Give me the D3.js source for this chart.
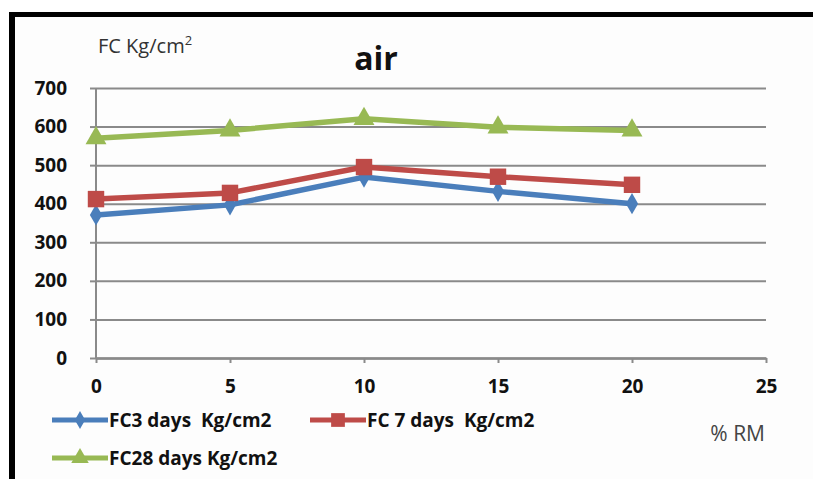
<!DOCTYPE html>
<html>
<head>
<meta charset="utf-8">
<script src="https://cdn.jsdelivr.net/npm/d3@7"></script>
<style>
  html, body { margin: 0; padding: 0; background: #fff; }
  svg { display: block; font-family: "Open Sans", "Noto Sans", sans-serif; }
</style>
</head>
<body>
<svg id="chart" width="813" height="479"></svg>
<script>
// % RM replacement levels
const rmLevels = [0, 5, 10, 15, 20];
// Compressive strength (Kg/cm2) cured in air
const fc3 = [371, 397, 469, 432, 400];
const fc7 = [412, 428, 495, 470, 449];
const fc28 = [570, 590, 620, 598, 590];
const seriesNames = ["FC3 days  Kg/cm2", "FC 7 days  Kg/cm2", "FC28 days Kg/cm2"];
const yTicks = [0, 100, 200, 300, 400, 500, 600, 700];
const xTicks = [0, 5, 10, 15, 20, 25];

const series = [
  { name: seriesNames[0], values: fc3, color: "#4a7ebb", symbol: d3.symbolDiamond, size: 130 },
  { name: seriesNames[1], values: fc7, color: "#be4b48", symbol: d3.symbolSquare, size: 270 },
  { name: seriesNames[2], values: fc28, color: "#98b954", symbol: d3.symbolTriangle, size: 190 }
];

const svg = d3.select("#chart");

// outer frame
svg.append("rect").attr("x", 0).attr("y", 0).attr("width", 813).attr("height", 479).attr("fill", "#fff");
svg.append("rect").attr("x", 9).attr("y", 12).attr("width", 804).attr("height", 5).attr("fill", "#000");
svg.append("rect").attr("x", 9).attr("y", 12).attr("width", 6).attr("height", 467).attr("fill", "#000");
svg.append("rect").attr("x", 15).attr("y", 17).attr("width", 798).attr("height", 462).attr("fill", "#fdfdfd");

const x = d3.scaleLinear().domain([0, 25]).range([96, 766]);
const y = d3.scaleLinear().domain([0, 700]).range([358, 88]);

const tickFont = { size: 19, weight: 700 };

// horizontal gridlines with left tick marks
const yAxis = svg.append("g")
  .attr("transform", `translate(${x(0)},0)`)
  .call(d3.axisLeft(y).tickValues(yTicks).tickSize(6).tickPadding(23).tickFormat(d3.format("d")));
yAxis.select(".domain").remove();
yAxis.selectAll(".tick line").attr("stroke", "#8a8a8a").attr("stroke-width", 2);
yAxis.selectAll(".tick").append("line")
  .attr("x1", 0).attr("x2", x(25) - x(0))
  .attr("stroke", "#8a8a8a").attr("stroke-width", 2);
yAxis.selectAll(".tick text")
  .attr("fill", "#111").attr("font-size", tickFont.size).attr("font-weight", tickFont.weight)
  .attr("font-family", "'Open Sans', sans-serif");

// vertical axis line
svg.append("line")
  .attr("x1", x(0)).attr("x2", x(0)).attr("y1", y(700)).attr("y2", y(0))
  .attr("stroke", "#8a8a8a").attr("stroke-width", 2);

// x axis
const xAxis = svg.append("g")
  .attr("transform", `translate(0,${y(0)})`)
  .call(d3.axisBottom(x).tickValues(xTicks).tickSize(5).tickPadding(17).tickSizeOuter(0).tickFormat(d3.format("d")));
xAxis.select(".domain").attr("stroke", "#8a8a8a").attr("stroke-width", 2.5);
xAxis.selectAll(".tick line").attr("stroke", "#8a8a8a").attr("stroke-width", 2);
xAxis.selectAll(".tick text")
  .attr("fill", "#111").attr("font-size", tickFont.size).attr("font-weight", tickFont.weight)
  .attr("font-family", "'Open Sans', sans-serif");

// series lines and markers
const line = d3.line().x((d, i) => x(rmLevels[i])).y(d => y(d));
series.forEach(s => {
  svg.append("path")
    .datum(s.values)
    .attr("d", line)
    .attr("fill", "none")
    .attr("stroke", s.color)
    .attr("stroke-width", 5.5)
    .attr("stroke-linejoin", "round");
  svg.selectAll(null)
    .data(s.values)
    .enter().append("path")
    .attr("d", d3.symbol().type(s.symbol).size(s.size))
    .attr("transform", (d, i) => `translate(${x(rmLevels[i])},${y(d)})`)
    .attr("fill", s.color);
});

// title and axis captions
svg.append("text").attr("x", 376).attr("y", 70).attr("text-anchor", "middle")
  .attr("font-size", 32).attr("font-weight", 700).attr("fill", "#111").text("air");

const yCap = svg.append("text").attr("x", 98).attr("y", 53)
  .attr("font-size", 20).attr("fill", "#333");
yCap.append("tspan").text("FC Kg/cm");
yCap.append("tspan").attr("dy", -8).attr("font-size", 13).text("2");

svg.append("text").attr("x", 765).attr("y", 441).attr("text-anchor", "end")
  .attr("font-size", 21).attr("fill", "#444").text("% RM");

// legend
const legendPos = [[52, 420], [310, 420], [52, 458]];
series.forEach((s, i) => {
  const [lx, ly] = legendPos[i];
  const g = svg.append("g").attr("transform", `translate(${lx},${ly})`);
  g.append("line").attr("x1", 0).attr("x2", 56).attr("y1", 0).attr("y2", 0)
    .attr("stroke", s.color).attr("stroke-width", 5);
  g.append("path").attr("d", d3.symbol().type(s.symbol).size(s.size * 0.7))
    .attr("transform", "translate(28,0)").attr("fill", s.color);
  g.append("text").attr("x", 57).attr("y", 7)
    .attr("font-size", 19).attr("font-weight", 700).attr("fill", "#111")
    .attr("xml:space", "preserve").style("white-space", "pre").text(s.name);
});
</script>
</body>
</html>
